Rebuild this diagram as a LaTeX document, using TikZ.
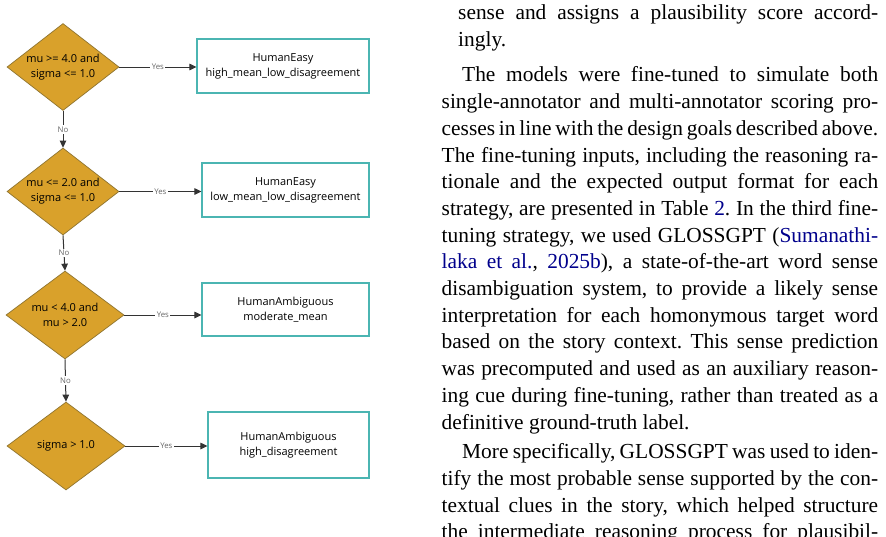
\documentclass[tikz,border=0pt]{standalone}
\usepackage{fontspec}
\setmainfont{Liberation Serif}
\newfontfamily\fcsans{Open Sans}
\usetikzlibrary{shapes.geometric,arrows.meta}
\definecolor{dfill}{HTML}{D9A12B}
\definecolor{dline}{HTML}{8F7430}
\definecolor{bline}{HTML}{4BB5B2}
\definecolor{eline}{HTML}{333333}
\definecolor{lblc}{HTML}{666666}
\definecolor{linkblue}{rgb}{0,0,0.55}
\newcommand{\lk}[1]{\textcolor{linkblue}{#1}}
\newcommand{\bodyfont}{\fontsize{21.4}{26.7}\selectfont\frenchspacing\spaceskip=0.25em plus 0.2em minus 0.1em\relax}
\begin{document}
\begin{tikzpicture}[x=1pt,y=-1pt,
 decision/.style={shape=diamond, draw=dline, fill=dfill, line width=0.7pt, inner sep=0pt},
 dtext/.style={font=\fcsans\fontsize{11}{15}\selectfont, align=center, inner sep=0pt, text=black},
 outcome/.style={draw=bline, fill=white, line width=1.1pt, align=center, inner sep=0pt, font=\fcsans\fontsize{11}{15}\selectfont},
 flow/.style={draw=eline, line width=1pt, -{Triangle[length=7pt,width=6.5pt]}},
 elabel/.style={font=\fcsans\fontsize{7.8}{9}\selectfont, text=lblc, fill=white, inner sep=1.5pt},
 body/.style={anchor=base west, inner sep=0pt, font=\bodyfont}
]
\fill[white] (0,0) rectangle (886,536);
\useasboundingbox (0,0) rectangle (886,536);

% decisions
\node[decision, minimum width=112pt, minimum height=87pt] (d1) at (63,67) {};
\node[dtext] (d1t) at (d1.center) {mu >= 4.0 and\\sigma <= 1.0};
\node[decision, minimum width=112pt, minimum height=87pt] (d2) at (63,191.5) {};
\node[dtext] (d2t) at (d2.center) {mu <= 2.0 and\\sigma <= 1.0};
\node[decision, minimum width=118pt, minimum height=88pt] (d3) at (65,315) {};
\node[dtext] (d3t) at (d3.center) {mu < 4.0 and\\mu > 2.0};
\node[decision, minimum width=118pt, minimum height=88pt] (d4) at (66,446) {};
\node[dtext] (d4t) at (d4.center) {sigma > 1.0};

% outcomes
\node[outcome, minimum width=172pt, minimum height=54pt] (b1) at (283,66) {HumanEasy\\high\_mean\_low\_disagreement};
\node[outcome, minimum width=167pt, minimum height=54pt] (b2) at (285.5,190) {HumanEasy\\low\_mean\_low\_disagreement};
\node[outcome, minimum width=167pt, minimum height=53pt] (b3) at (285.5,309.5) {HumanAmbiguous\\moderate\_mean};
\node[outcome, minimum width=161pt, minimum height=66pt] (b4) at (288.5,445) {HumanAmbiguous\\high\_disagreement};

% connectors
\draw[flow] (d1.east) -- node[elabel]{Yes} (d1.east -| b1.west);
\draw[flow] (d2.east) -- node[elabel]{Yes} (d2.east -| b2.west);
\draw[flow] (d3.east) -- node[elabel]{Yes} (d3.east -| b3.west);
\draw[flow] (d4.east) -- node[elabel]{Yes} (d4.east -| b4.west);
\draw[flow] (d1.south) -- node[elabel]{No} (d2.north);
\draw[flow] (d2.south) -- node[elabel]{No} (d3.north);
\draw[flow] (d3.south) -- node[elabel]{No} (d4.north);

% body text
\node[body] (t1) at (458,19.9) {\makebox[420pt][s]{sense and assigns a plausibility score accord-}};
\node[body] (t2) at (458,46.6) {ingly.};
\node[body] (t3) at (462,81.9) {\makebox[416pt][s]{The models were fine-tuned to simulate both}};
\node[body] (t4) at (441.5,108.6) {\makebox[436.5pt][s]{single-annotator and multi-annotator scoring pro-}};
\node[body] (t5) at (441.5,135.3) {\makebox[436.5pt][s]{cesses in line with the design goals described above.}};
\node[body] (t6) at (441.5,162.0) {\makebox[436.5pt][s]{The fine-tuning inputs, including the reasoning ra-}};
\node[body] (t7) at (441.5,188.7) {\makebox[436.5pt][s]{tionale and the expected output format for each}};
\node[body] (t8) at (441.5,215.4) {\makebox[436.5pt][s]{strategy, are presented in Table \lk{2}. In the third fine-}};
\node[body] (t9) at (441.5,242.1) {\makebox[436.5pt][s]{tuning strategy, we used GLOSSGPT (\lk{Sumanathi-}}};
\node[body] (t10) at (441.5,268.8) {\makebox[436.5pt][s]{\lk{laka et al.}, \lk{2025b}), a state-of-the-art word sense}};
\node[body] (t11) at (441.5,295.5) {\makebox[436.5pt][s]{disambiguation system, to provide a likely sense}};
\node[body] (t12) at (441.5,322.2) {\makebox[436.5pt][s]{interpretation for each homonymous target word}};
\node[body] (t13) at (441.5,348.9) {\makebox[436.5pt][s]{based on the story context. This sense prediction}};
\node[body] (t14) at (441.5,375.6) {\makebox[436.5pt][s]{was precomputed and used as an auxiliary reason-}};
\node[body] (t15) at (441.5,402.3) {\makebox[436.5pt][s]{ing cue during fine-tuning, rather than treated as a}};
\node[body] (t16) at (441.5,429.0) {definitive ground-truth label.};
\node[body] (t17) at (462,458.7) {\makebox[416pt][s]{More specifically, GLOSSGPT was used to iden-}};
\node[body] (t18) at (441.5,485.4) {\makebox[436.5pt][s]{tify the most probable sense supported by the con-}};
\node[body] (t19) at (441.5,512.1) {\makebox[436.5pt][s]{textual clues in the story, which helped structure}};
\node[body] (t20) at (441.5,538.8) {\makebox[436.5pt][s]{the intermediate reasoning process for plausibil-}};
\end{tikzpicture}
\end{document}
